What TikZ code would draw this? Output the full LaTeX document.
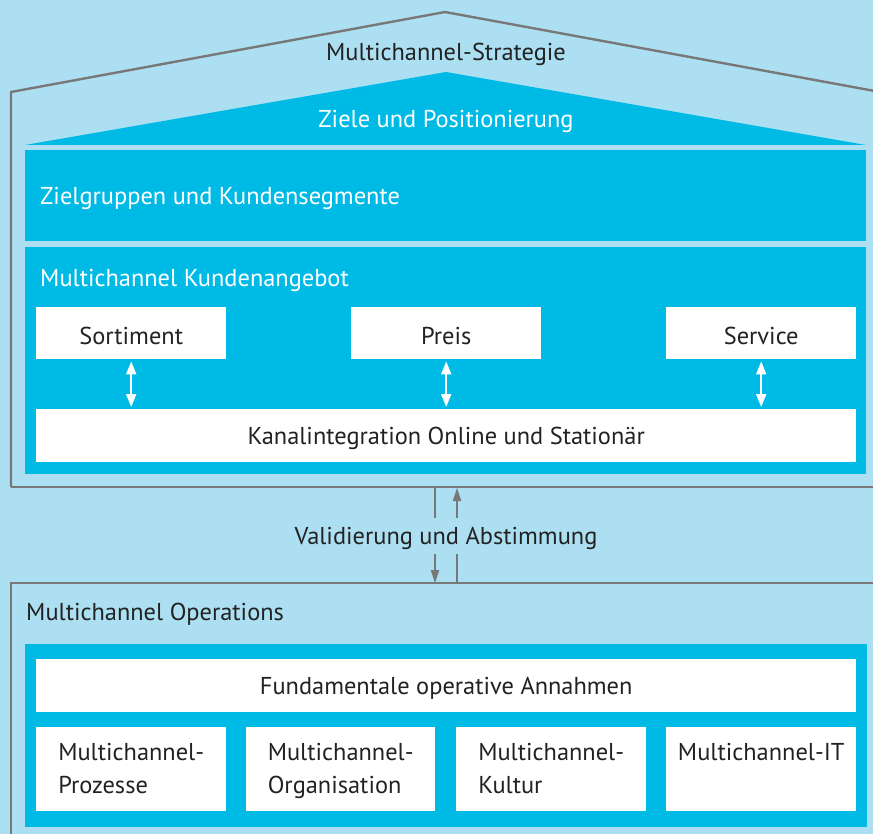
\documentclass[tikz,border=0pt]{standalone}
\usepackage{fontspec}
\setmainfont{PT Sans}
\usetikzlibrary{arrows.meta}
\definecolor{bgblue}{HTML}{ADDFF2}
\definecolor{darkblue}{HTML}{00BAE6}
\definecolor{framegray}{HTML}{787878}
\definecolor{txt}{HTML}{222222}
\tikzset{
  dbox/.style={fill=darkblue, draw=none, inner sep=0pt, anchor=north west},
  wbox/.style={fill=white, draw=none, inner sep=0pt, anchor=north west},
  lbl/.style={text=txt, font=\fontsize{24.4}{33}\selectfont, inner sep=0pt, yshift=-2.5pt},
  wlbl/.style={text=white, font=\fontsize{24.4}{33}\selectfont, inner sep=0pt, yshift=-2.5pt},
  frame/.style={draw=framegray, line width=2.4pt},
  grayarrow/.style={draw=framegray, line width=1.8pt, -{Triangle[length=13pt,width=8pt]}},
  whitearrow/.style={draw=white, line width=2pt, {Triangle[length=13pt,width=10pt]}-{Triangle[length=13pt,width=10pt]}},
}
\begin{document}
\begin{tikzpicture}[x=1pt,y=-1pt]
\fill[bgblue] (0,0) rectangle (873,834);
\useasboundingbox (0,0) rectangle (873,834);
% outer house frame
\draw[frame] (11,487) -- (11,92) -- (445,12) -- (880,92);
\draw[frame] (11,487) -- (880,487);
\draw[frame] (11,840) -- (11,583) -- (880,583);
% roof triangle
\fill[darkblue] (25,145) -- (446,72) -- (866,145) -- cycle;
\node[lbl] (strat) at (446,52) {Multichannel-Strategie};
\node[wlbl] (ziele) at (446,119) {Ziele und Positionierung};
% Zielgruppen
\node[dbox, minimum width=841pt, minimum height=91pt] (zg) at (25,150) {};
\node[wlbl, anchor=west] (zgt) at (40,196) {Zielgruppen und Kundensegmente};
% Kundenangebot
\node[dbox, minimum width=841pt, minimum height=227pt] (ka) at (25,247) {};
\node[wlbl, anchor=west] (kat) at (40,278) {Multichannel Kundenangebot};
\node[wbox, minimum width=190pt, minimum height=52pt] (sort) at (36,307) {};
\node[lbl] at (sort.center) {Sortiment};
\node[wbox, minimum width=190pt, minimum height=52pt] (preis) at (351,307) {};
\node[lbl] at (preis.center) {Preis};
\node[wbox, minimum width=190pt, minimum height=52pt] (serv) at (666,307) {};
\node[lbl] at (serv.center) {Service};
\node[wbox, minimum width=820pt, minimum height=53pt] (kanal) at (36,409) {};
\node[lbl] at (kanal.center) {Kanalintegration Online und Stationär};
\draw[whitearrow] ([yshift=-2pt]sort.south) -- ([yshift=2pt]sort.south |- kanal.north);
\draw[whitearrow] ([yshift=-2pt]preis.south) -- ([yshift=2pt]preis.south |- kanal.north);
\draw[whitearrow] ([yshift=-2pt]serv.south) -- ([yshift=2pt]serv.south |- kanal.north);
% validation arrows
\node[lbl] (valid) at (446,536) {Validierung und Abstimmung};
\coordinate (t1) at (435,488);
\coordinate (t2) at (457,488);
\coordinate (m1) at (435,518);
\coordinate (m2) at (457,518);
\coordinate (n1) at (435,554);
\coordinate (n2) at (457,554);
\coordinate (b1) at (435,583);
\coordinate (b2) at (457,583);
\draw[draw=framegray, line width=1.8pt] (t1) -- (m1);
\draw[grayarrow] (m2) -- (t2);
\draw[grayarrow] (n1) -- (b1);
\draw[draw=framegray, line width=1.8pt] (n2) -- (b2);
% operations
\node[lbl, anchor=west] (ops) at (26,612) {Multichannel Operations};
\node[dbox, minimum width=842pt, minimum height=183pt] (opsbox) at (25,644) {};
\node[wbox, minimum width=820pt, minimum height=53pt] (fund) at (36,659) {};
\node[lbl] at (fund.center) {Fundamentale operative Annahmen};
\node[wbox, minimum width=190pt, minimum height=84pt] (p1) at (36,727) {};
\node[wbox, minimum width=189pt, minimum height=84pt] (p2) at (246,727) {};
\node[wbox, minimum width=190pt, minimum height=84pt] (p3) at (456,727) {};
\node[wbox, minimum width=190pt, minimum height=84pt] (p4) at (666,727) {};
\node[lbl, align=left, anchor=north] at ([yshift=-14pt]p1.north) {Multichannel-\\Prozesse};
\node[lbl, align=left, anchor=north] at ([yshift=-14pt]p2.north) {Multichannel-\\Organisation};
\node[lbl, align=left, anchor=north] at ([yshift=-14pt]p3.north) {Multichannel-\\Kultur};
\node[lbl, align=left, anchor=north] at ([yshift=-14pt]p4.north) {Multichannel-IT};
\end{tikzpicture}
\end{document}
